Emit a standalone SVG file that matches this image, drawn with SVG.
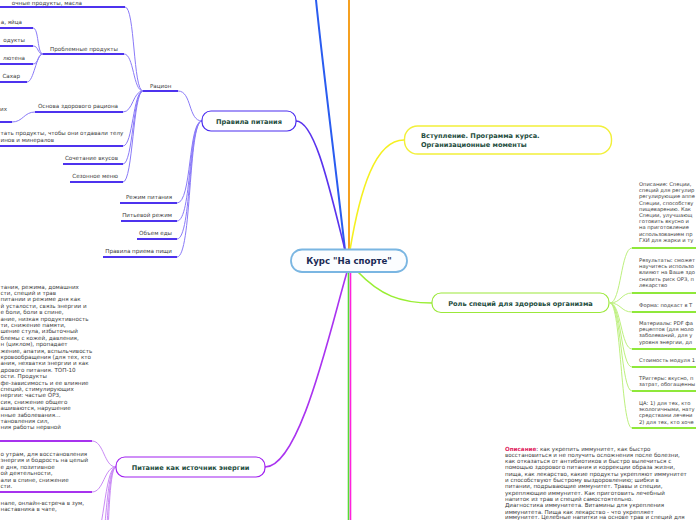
<svg xmlns="http://www.w3.org/2000/svg" width="696" height="520" viewBox="0 0 696 520">
<style>
text{font-family:"DejaVu Sans","Verdana",sans-serif}
.leaf{font-size:5.6px;fill:#3a3a3a}
.rleaf{font-size:5.2px;fill:#3a3a3a}
.node{font-size:6.6px;font-weight:bold;fill:#1e4d40}
.c{fill:none}
.u1{stroke:#4d33ee;stroke-width:2}
.k1{stroke:#8a7af8;stroke-width:1;fill:none}
.u2{stroke:#a733ee;stroke-width:2}
.k2{stroke:#c98af5;stroke-width:1;fill:none}
.u3{stroke:#8fe83a;stroke-width:2}
.k3{stroke:#bdf07e;stroke-width:1;fill:none}
.red{fill:#e0245e;font-weight:bold}
</style>
<rect width="696" height="520" fill="#ffffff"/>
<g id="connectors">
  <path class="c" d="M345,250 C336,170 322,60 316,0" stroke="#2a5cf0" stroke-width="2"/>
  <path class="c" d="M349,250 L349,0" stroke="#f5a020" stroke-width="2"/>
  <path class="c" d="M350,250 C360,190 375,140 404,140" stroke="#f5f020" stroke-width="1.6"/>
  <path class="c" d="M345,250 C330,190 315,121 296,121" stroke="#5a33ee" stroke-width="1.6"/>
  <path class="c" d="M358,272 C380,295 400,303 432,303" stroke="#99ee33" stroke-width="1.6"/>
  <path class="c" d="M347,272 C330,330 300,467 265,467" stroke="#aa33f0" stroke-width="1.6"/>
  <path class="c" d="M348.5,272 L348.5,520" stroke="#55dd33" stroke-width="1.6"/>
  <path class="c" d="M350.5,272 L350.5,520" stroke="#ff22dd" stroke-width="1.6"/>
  <path class="k1" d="M202,121 C188,121 192,91 178,91"/>
  <path class="k1" d="M202,121 C188,121 192,203 177,203"/>
  <path class="k1" d="M202,121 C188,121 192,221 177,221"/>
  <path class="k1" d="M202,121 C188,121 192,239 177,239"/>
  <path class="k1" d="M202,121 C188,121 192,257 177,257"/>
  <path class="k1" d="M143,91 C133,91 135,7 125,7"/>
  <path class="k1" d="M143,91 C133,91 134,54 124,54"/>
  <path class="k1" d="M143,91 C133,91 133,112 123,112"/>
  <path class="k1" d="M143,91 C133,91 133,146 123,146"/>
  <path class="k1" d="M143,91 C133,91 133,164 123,164"/>
  <path class="k1" d="M143,91 C133,91 133,182 123,182"/>
  <path class="k1" d="M43,54 C37,54 39,28 33,28"/>
  <path class="k1" d="M43,54 C37,54 39,46 33,46"/>
  <path class="k1" d="M43,54 C37,54 39,64 33,64"/>
  <path class="k1" d="M43,54 C36,54 34,82 27,82"/>
  <path class="k1" d="M35,112 C24,112 23,122 12,122"/>
  <path class="k2" d="M116,467 C104,467 104,441 92,441"/>
  <path class="k2" d="M116,467 C104,467 104,492 92,492"/>
  <path class="k2" d="M116,467 C104,467 104,545 92,545"/>
  <path class="k2" d="M116,467 C104,467 106,580 94,580"/>
  <path class="k2" d="M116,467 C104,467 108,620 96,620"/>
  <path class="k2" d="M116,467 C104,467 110,660 98,660"/>
  <path class="k3" d="M610,303 C621,303 621,248 632,248"/>
  <path class="k3" d="M610,303 C621,303 621,293 632,293"/>
  <path class="k3" d="M610,303 C621,303 621,312 632,312"/>
  <path class="k3" d="M610,303 C621,303 621,349 632,349"/>
  <path class="k3" d="M610,303 C621,303 621,367 632,367"/>
  <path class="k3" d="M610,303 C621,303 621,391 632,391"/>
  <path class="k3" d="M610,303 C621,303 621,428 632,428"/>
</g>
<g id="center">
  <rect x="291" y="249.5" width="116" height="22.5" rx="11" fill="#fbfdff" stroke="#7ab6e2" stroke-width="1.8"/>
  <text x="349" y="264" text-anchor="middle" font-size="8.6" font-weight="bold" fill="#1a2a55">Курс "На спорте"</text>
</g>
<g id="n-intro">
  <rect x="404.5" y="126" width="207" height="28" rx="13" fill="#ffffff" stroke="#f2f03a" stroke-width="1.4"/>
  <text class="node" x="421" y="138">Вступление. Программа курса.</text>
  <text class="node" x="421" y="147">Организационные моменты</text>
</g>
<g id="n-rules">
  <rect x="202" y="111" width="94" height="20" rx="9" fill="#ffffff" stroke="#4a2cf0" stroke-width="1.2"/>
  <text class="node" x="249" y="123.5" text-anchor="middle">Правила питания</text>
</g>
<g id="n-role">
  <rect x="432" y="293" width="177" height="19.5" rx="9" fill="#ffffff" stroke="#9be83a" stroke-width="1.2"/>
  <text class="node" x="520.5" y="305.5" text-anchor="middle">Роль специй для здоровья организма</text>
</g>
<g id="n-energy">
  <rect x="116" y="457" width="149" height="20" rx="9" fill="#ffffff" stroke="#a020f0" stroke-width="1.2"/>
  <text class="node" x="190.5" y="469.5" text-anchor="middle">Питание как источник энергии</text>
</g>
<g id="l-ration">
  <line class="u1" x1="143" y1="91" x2="178" y2="91"/>
  <text class="leaf" x="150" y="87.5">Рацион</text>
</g>
<g id="l-dairy">
  <line class="u1" x1="0" y1="7" x2="125" y2="7"/>
  <text class="leaf" x="82" y="4.6" text-anchor="end">очные продукты, масла</text>
</g>
<g id="l-problem">
  <line class="u1" x1="43" y1="54" x2="124" y2="54"/>
  <text class="leaf" x="118" y="50.5" text-anchor="end">Проблемные продукты</text>
</g>
<g id="l-eggs">
  <line class="u1" x1="0" y1="28" x2="33" y2="28"/>
  <text class="leaf" x="22" y="24" text-anchor="end">а, яйца</text>
</g>
<g id="l-prod">
  <line class="u1" x1="0" y1="46" x2="33" y2="46"/>
  <text class="leaf" x="25" y="41.5" text-anchor="end">одукты</text>
</g>
<g id="l-gluten">
  <line class="u1" x1="0" y1="64" x2="33" y2="64"/>
  <text class="leaf" x="25" y="59.5" text-anchor="end">лютена</text>
</g>
<g id="l-sugar">
  <line class="u1" x1="0" y1="82" x2="27" y2="82"/>
  <text class="leaf" x="20" y="77.5" text-anchor="end">Сахар</text>
</g>
<g id="l-basis">
  <line class="u1" x1="35" y1="112" x2="123" y2="112"/>
  <text class="leaf" x="118" y="107.5" text-anchor="end">Основа здорового рациона</text>
</g>
<g id="l-ih">
  <line class="u1" x1="0" y1="122" x2="12" y2="122"/>
  <text class="leaf" x="7" y="111" text-anchor="end">их</text>
</g>
<g id="l-count">
  <line class="u1" x1="0" y1="146" x2="123" y2="146"/>
  <text class="leaf" x="0.5" y="135">тать продукты, чтобы они отдавали телу</text>
  <text class="leaf" x="0.5" y="142">инов и минералов</text>
</g>
<g id="l-taste">
  <line class="u1" x1="63" y1="164" x2="123" y2="164"/>
  <text class="leaf" x="118" y="160" text-anchor="end">Сочетание вкусов</text>
</g>
<g id="l-season">
  <line class="u1" x1="70" y1="182" x2="123" y2="182"/>
  <text class="leaf" x="118" y="178" text-anchor="end">Сезонное меню</text>
</g>
<g id="l-regime">
  <line class="u1" x1="120" y1="203" x2="177" y2="203"/>
  <text class="leaf" x="172" y="198.5" text-anchor="end">Режим питания</text>
</g>
<g id="l-drink">
  <line class="u1" x1="121" y1="221" x2="177" y2="221"/>
  <text class="leaf" x="172" y="216.5" text-anchor="end">Питьевой режим</text>
</g>
<g id="l-volume">
  <line class="u1" x1="137" y1="239" x2="177" y2="239"/>
  <text class="leaf" x="172" y="234.5" text-anchor="end">Объем еды</text>
</g>
<g id="l-eat">
  <line class="u1" x1="103" y1="257" x2="177" y2="257"/>
  <text class="leaf" x="172" y="252.5" text-anchor="end">Правила приема пищи</text>
</g>
<g id="l-energy-desc">
  <line class="u2" x1="0" y1="441" x2="92" y2="441"/>
  <text class="leaf">
    <tspan x="0.5" y="288.5">тания, режима, домашних</tspan>
    <tspan x="0.5" y="294.9">сти, специй и трав</tspan>
    <tspan x="0.5" y="301.3">питании и режиме дня как</tspan>
    <tspan x="0.5" y="307.7">й усталости, связь энергии и</tspan>
    <tspan x="0.5" y="314.1">е боли, боли в спине,</tspan>
    <tspan x="0.5" y="320.5">ание, низкая продуктивность</tspan>
    <tspan x="0.5" y="326.9">ти, снижение памяти,</tspan>
    <tspan x="0.5" y="333.3">шение стула, избыточный</tspan>
    <tspan x="0.5" y="339.7">блемы с кожей, давления,</tspan>
    <tspan x="0.5" y="346.1">н (циклом), пропадает</tspan>
    <tspan x="0.5" y="352.5">жение, апатия, вспыльчивость</tspan>
    <tspan x="0.5" y="358.9">кровообращения (для тех, кто</tspan>
    <tspan x="0.5" y="365.3">ания, нехватки энергии и как</tspan>
    <tspan x="0.5" y="371.7">дрового питания. ТОП-10</tspan>
    <tspan x="0.5" y="378.1">ости. Продукты</tspan>
    <tspan x="0.5" y="384.5">фе-зависимость и ее влияние</tspan>
    <tspan x="0.5" y="390.9">специй, стимулирующих</tspan>
    <tspan x="0.5" y="397.3">нергии: частые ОРЗ,</tspan>
    <tspan x="0.5" y="403.7">сия, снижение общего</tspan>
    <tspan x="0.5" y="410.1">ашиваются, нарушение</tspan>
    <tspan x="0.5" y="416.5">нные заболевания...</tspan>
    <tspan x="0.5" y="422.9">тановления сил,</tspan>
    <tspan x="0.5" y="429.3">ния работы нервной</tspan>
  </text>
</g>
<g id="l-energy-res">
  <line class="u2" x1="0" y1="492" x2="92" y2="492"/>
  <text class="leaf">
    <tspan x="0.5" y="456">о утрам, для восстановления</tspan>
    <tspan x="0.5" y="462.4">энергия и бодрость на целый</tspan>
    <tspan x="0.5" y="468.8">е дня, позитивное</tspan>
    <tspan x="0.5" y="475.2">ой деятельности,</tspan>
    <tspan x="0.5" y="481.6">али в спине, снижение</tspan>
    <tspan x="0.5" y="488">сти.</tspan>
  </text>
</g>
<g id="l-energy-form">
  <text class="leaf">
    <tspan x="0.5" y="505">нале, онлайн-встреча в зум,</tspan>
    <tspan x="0.5" y="511.4">наставника в чате,</tspan>
  </text>
</g>
<g id="l-spice-desc">
  <line class="u3" x1="632" y1="248" x2="696" y2="248"/>
  <text class="rleaf">
    <tspan x="639" y="186">Описание: Специи,</tspan>
    <tspan x="639" y="192.2">специй для регулир</tspan>
    <tspan x="639" y="198.4">регулирующие аппе</tspan>
    <tspan x="639" y="204.6">Специи, способству</tspan>
    <tspan x="639" y="210.8">пищеварению. Как</tspan>
    <tspan x="639" y="217">Специи, улучшающ</tspan>
    <tspan x="639" y="223.2">готовить вкусно и</tspan>
    <tspan x="639" y="229.4">на приготовление</tspan>
    <tspan x="639" y="235.6">использованием пр</tspan>
    <tspan x="639" y="241.8">ГХИ для жарки и ту</tspan>
  </text>
</g>
<g id="l-spice-res">
  <line class="u3" x1="632" y1="293" x2="696" y2="293"/>
  <text class="rleaf">
    <tspan x="639" y="262">Результаты: сможет</tspan>
    <tspan x="639" y="268.2">научитесь использо</tspan>
    <tspan x="639" y="274.4">влияют на Ваше здо</tspan>
    <tspan x="639" y="280.6">снизить риск ОРЗ, п</tspan>
    <tspan x="639" y="286.8">лекарство</tspan>
  </text>
</g>
<g id="l-spice-form">
  <line class="u3" x1="632" y1="312" x2="696" y2="312"/>
  <text class="rleaf" x="639" y="307">Форма: подкаст в Т</text>
</g>
<g id="l-spice-mat">
  <line class="u3" x1="632" y1="349" x2="696" y2="349"/>
  <text class="rleaf">
    <tspan x="639" y="325">Материалы: PDF фа</tspan>
    <tspan x="639" y="331.2">рецептов (для моло</tspan>
    <tspan x="639" y="337.4">заболеваний, для у</tspan>
    <tspan x="639" y="343.6">уровня энергии, дл</tspan>
  </text>
</g>
<g id="l-spice-cost">
  <line class="u3" x1="632" y1="367" x2="696" y2="367"/>
  <text class="rleaf" x="639" y="362">Стоимость модуля 1</text>
</g>
<g id="l-spice-trig">
  <line class="u3" x1="632" y1="391" x2="696" y2="391"/>
  <text class="rleaf">
    <tspan x="639" y="380">ТРиггеры: вкусно, п</tspan>
    <tspan x="639" y="386.2">затрат, обогащенны</tspan>
  </text>
</g>
<g id="l-spice-ca">
  <line class="u3" x1="632" y1="428" x2="696" y2="428"/>
  <text class="rleaf">
    <tspan x="639" y="405">ЦА: 1) для тех, кто</tspan>
    <tspan x="639" y="411.2">экологичными, нату</tspan>
    <tspan x="639" y="417.4">средствами лечени</tspan>
    <tspan x="639" y="423.6">2) для тех, кто хоче</tspan>
  </text>
</g>
<g id="l-immunity">
  <text class="leaf" font-size="5.4">
    <tspan x="505" y="450.5"><tspan class="red">Описание</tspan>: как укрепить иммунитет, как быстро</tspan>
    <tspan x="505" y="456.8">восстановиться и не получить осложнения после болезни,</tspan>
    <tspan x="505" y="463.1">как отказаться от антибиотиков и быстро вылечиться с</tspan>
    <tspan x="505" y="469.4">помощью здорового питания и коррекции образа жизни,</tspan>
    <tspan x="505" y="475.7">пища, как лекарство, какие продукты укрепляют иммунитет</tspan>
    <tspan x="505" y="482">и способствуют быстрому выздоровлению; шибки в</tspan>
    <tspan x="505" y="488.3">питании, подрывающие иммунитет. Травы и специи,</tspan>
    <tspan x="505" y="494.6">укрепляющие иммунитет. Как приготовить лечебный</tspan>
    <tspan x="505" y="500.9">напиток из трав и специй самостоятельно.</tspan>
    <tspan x="505" y="507.2">Диагностика иммунитета. Витамины для укрепления</tspan>
    <tspan x="505" y="513.5">иммунитета. Пища как лекарство - что укрепляет</tspan>
    <tspan x="505" y="519.3">иммунитет. Целебные напитки на основе трав и специй для</tspan>
  </text>
</g>
</svg>
